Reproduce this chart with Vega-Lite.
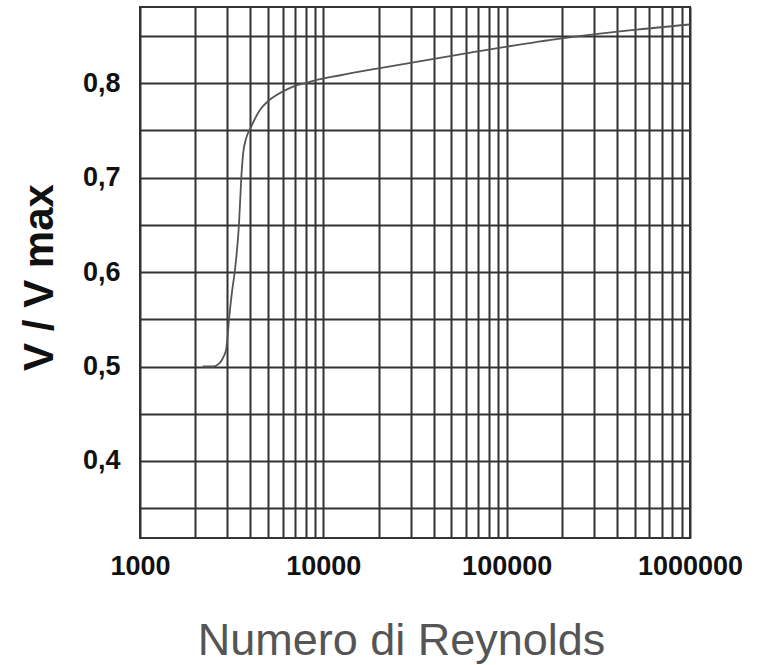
{
  "$schema": "https://vega.github.io/schema/vega-lite/v6.json",
  "width": 550,
  "height": 531,
  "autosize": {"type": "none"},
  "padding": {"left": 140, "top": 7, "right": 83, "bottom": 127},
  "background": "white",
  "config": {
    "view": {"stroke": "#333", "strokeWidth": 2},
    "font": "Liberation Sans"
  },
  "data": {
    "values": [
      {"re": 2200, "v": 0.500},
      {"re": 2500, "v": 0.500},
      {"re": 2700, "v": 0.503},
      {"re": 2850, "v": 0.510},
      {"re": 2950, "v": 0.518},
      {"re": 3000, "v": 0.530},
      {"re": 3060, "v": 0.550},
      {"re": 3180, "v": 0.580},
      {"re": 3285, "v": 0.600},
      {"re": 3465, "v": 0.650},
      {"re": 3570, "v": 0.700},
      {"re": 3650, "v": 0.725},
      {"re": 3800, "v": 0.742},
      {"re": 4000, "v": 0.752},
      {"re": 4490, "v": 0.771},
      {"re": 5000, "v": 0.781},
      {"re": 5530, "v": 0.787},
      {"re": 6300, "v": 0.793},
      {"re": 7000, "v": 0.797},
      {"re": 8000, "v": 0.800},
      {"re": 9100, "v": 0.803},
      {"re": 12200, "v": 0.808},
      {"re": 20000, "v": 0.8156},
      {"re": 60000, "v": 0.8314},
      {"re": 200000, "v": 0.8473},
      {"re": 480000, "v": 0.856},
      {"re": 1000000, "v": 0.862}
    ]
  },
  "mark": {"type": "line", "color": "#555", "strokeWidth": 1.8, "interpolate": "monotone"},
  "encoding": {
    "x": {
      "field": "re",
      "type": "quantitative",
      "scale": {"type": "log", "domain": [1000, 1000000], "nice": false},
      "axis": {
        "title": "Numero di Reynolds",
        "values": [1000,2000,3000,4000,5000,6000,7000,8000,9000,10000,20000,30000,40000,50000,60000,70000,80000,90000,100000,200000,300000,400000,500000,600000,700000,800000,900000,1000000],
        "labelExpr": "(datum.value == 1000 || datum.value == 10000 || datum.value == 100000 || datum.value == 1000000) ? format(datum.value, 'd') : ''",
        "labelOverlap": false,
        "labelBound": false,
        "labelFlush": false,
        "labelFont": "Liberation Sans",
        "labelFontSize": 27,
        "labelFontWeight": "bold",
        "labelColor": "#111",
        "labelPadding": 15,
        "ticks": false,
        "tickSize": 0,
        "domain": false,
        "grid": true,
        "gridColor": "#333",
        "gridWidth": 2,
        "gridOpacity": 1,
        "titleFont": "Liberation Sans",
        "titleFontSize": 45,
        "titleFontWeight": "normal",
        "titleColor": "#555",
        "titleX": 261,
        "titleY": 102,
        "titleAlign": "center",
        "titleBaseline": "middle"
      }
    },
    "y": {
      "field": "v",
      "type": "quantitative",
      "scale": {"domain": [0.3185, 0.8805], "nice": false, "zero": false},
      "axis": {
        "title": "V / V max",
        "values": [0.35,0.4,0.45,0.5,0.55,0.6,0.65,0.7,0.75,0.8,0.85],
        "labelExpr": "abs(datum.value*10 - round(datum.value*10)) < 0.001 ? replace(format(datum.value, '.1f'), '.', ',') : ''",
        "labelOverlap": false,
        "labelFont": "Liberation Sans",
        "labelFontSize": 27,
        "labelFontWeight": "bold",
        "labelColor": "#111",
        "labelPadding": 20,
        "ticks": false,
        "tickSize": 0,
        "domain": false,
        "grid": true,
        "gridColor": "#333",
        "gridWidth": 2,
        "gridOpacity": 1,
        "titleFont": "Liberation Sans",
        "titleFontSize": 42,
        "titleFontWeight": "bold",
        "titleColor": "#111",
        "titleAngle": -90,
        "titleX": -101,
        "titleY": 270,
        "titleAlign": "center",
        "titleBaseline": "middle"
      }
    }
  }
}
